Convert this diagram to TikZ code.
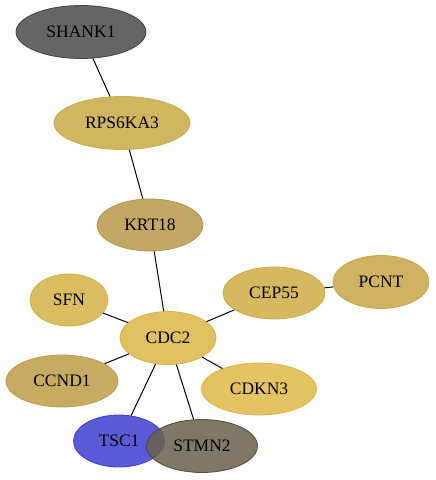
\documentclass[tikz,border=0pt]{standalone}
\usepackage{fontspec}
\setmainfont{Liberation Serif}
\usetikzlibrary{shapes.geometric}
\begin{document}
\begin{tikzpicture}[x=1pt,y=-1pt,
  gene/.style={ellipse, draw, line width=0.8pt, fill opacity=0.92, draw opacity=0.9, text opacity=1, inner sep=0pt, font=\fontsize{17.5}{20}\selectfont},
  link/.style={line width=1pt, black}]
\useasboundingbox (0,0) rectangle (436,480);
\definecolor{cShank}{HTML}{585858}\definecolor{eShank}{HTML}{3A3A3A}
\definecolor{cRps}{HTML}{CDB055}\definecolor{eRps}{HTML}{C8A840}
\definecolor{cKrt}{HTML}{BD9F58}\definecolor{eKrt}{HTML}{B09244}
\definecolor{cSfn}{HTML}{D7B654}\definecolor{eSfn}{HTML}{D0AE40}
\definecolor{cCdc}{HTML}{DEBB55}\definecolor{eCdc}{HTML}{D6B040}
\definecolor{cCep}{HTML}{D3B254}\definecolor{eCep}{HTML}{CCA840}
\definecolor{cPcnt}{HTML}{CBAD55}\definecolor{ePcnt}{HTML}{C4A440}
\definecolor{cCcnd}{HTML}{C2A455}\definecolor{eCcnd}{HTML}{B89A42}
\definecolor{cCdkn}{HTML}{E1BE55}\definecolor{eCdkn}{HTML}{D8B240}
\definecolor{cTsc}{HTML}{4C4CD6}\definecolor{eTsc}{HTML}{3333CC}
\definecolor{cStmn}{HTML}{6A604B}\definecolor{eStmn}{HTML}{4A4232}
\node[gene, fill=cShank, draw=eShank, minimum width=130pt, minimum height=53pt] (shank) at (81,32) {SHANK1};
\node[gene, fill=cRps, draw=eRps, minimum width=136pt, minimum height=53pt] (rps) at (122,123) {RPS6KA3};
\node[gene, fill=cKrt, draw=eKrt, minimum width=106pt, minimum height=52pt] (krt) at (150,225) {KRT18};
\node[gene, fill=cSfn, draw=eSfn, minimum width=78pt, minimum height=52pt] (sfn) at (69,300) {SFN};
\node[gene, fill=cCdc, draw=eCdc, minimum width=96pt, minimum height=53pt] (cdc) at (168,338) {CDC2};
\node[gene, fill=cCep, draw=eCep, minimum width=102pt, minimum height=52pt] (cep) at (274,293) {CEP55};
\node[gene, fill=cPcnt, draw=ePcnt, minimum width=96pt, minimum height=53pt] (pcnt) at (381,282) {PCNT};
\node[gene, fill=cCcnd, draw=eCcnd, minimum width=112pt, minimum height=52pt] (ccnd) at (62,381) {CCND1};
\node[gene, fill=cCdkn, draw=eCdkn, minimum width=115pt, minimum height=52pt] (cdkn) at (259,389) {CDKN3};
\node[gene, fill=cTsc, draw=eTsc, minimum width=91pt, minimum height=52pt] (tsc) at (119,441) {TSC1};
\node[gene, fill=cStmn, draw=eStmn, minimum width=111pt, minimum height=53pt, fill opacity=0.85] (stmn) at (202,446) {STMN2};
\draw[link] (shank) -- (rps);
\draw[link] (rps) -- (krt);
\draw[link] (krt) -- (cdc);
\draw[link] (sfn) -- (cdc);
\draw[link] (cep) -- (cdc);
\draw[link] (cep) -- (pcnt);
\draw[link] (ccnd) -- (cdc);
\draw[link] (cdkn) -- (cdc);
\draw[link] (tsc) -- (cdc);
\draw[link] (stmn) -- (cdc);
\end{tikzpicture}
\end{document}
